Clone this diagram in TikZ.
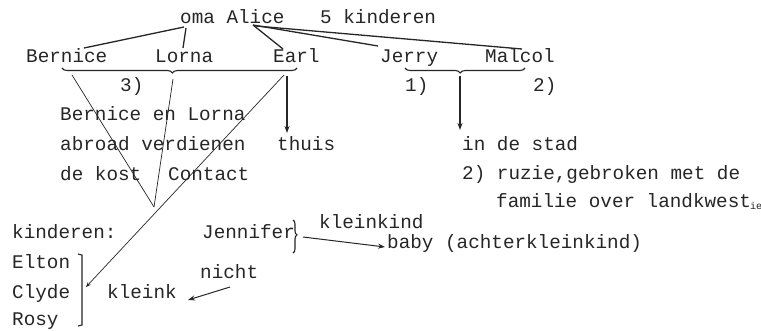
\documentclass[tikz,border=0pt]{standalone}
\usepackage{fontspec}
\setmonofont{Liberation Mono}
\usetikzlibrary{arrows.meta,decorations.pathreplacing}
\definecolor{ink}{RGB}{38,38,38}
\tikzset{
  tw/.style={font=\ttfamily\fontsize{19.3}{20}\selectfont, text=ink, inner sep=0pt, anchor=base west},
  link/.style={draw=ink, line width=1.3pt},
  thin link/.style={draw=ink, line width=0.7pt},
  downbrace/.style={draw=ink, line width=1.1pt, decorate,
    decoration={brace, amplitude=5pt, mirror, aspect=#1}},
  sidebrace/.style={draw=ink, line width=1.1pt, decorate,
    decoration={brace, amplitude=4pt, aspect=#1}},
  tip/.style={-{Stealth[length=7pt,width=5pt]}},
}
\begin{document}
\begin{tikzpicture}[x=1pt, y=-1pt]
\useasboundingbox (0,0) rectangle (761,330);
\fill[white] (0,0) rectangle (761,330);

% family members and notes
\node[tw] (alice) at (180,23) {oma Alice};
\node[tw] (count) at (320,23) {5 kinderen};
\node[tw] (bernice) at (26,62) {Bernice};
\node[tw] (lorna) at (155,62) {Lorna};
\node[tw] (earl) at (273,62) {Earl};
\node[tw] (jerry) at (380,62) {Jerry};
\node[tw] (malcol) at (485,62) {Malcol};
\node[tw] (n3) at (120,91) {3)};
\node[tw] (n1) at (405,91) {1)};
\node[tw] (n2) at (533,91) {2)};
\node[tw] (bl1) at (60,120) {Bernice en Lorna};
\node[tw] (bl2) at (60,150) {abroad verdienen};
\node[tw] (thuis) at (277,150) {thuis};
\node[tw] (stad) at (462,150) {in de stad};
\node[tw] (bl3) at (60,180) {de kost};
\node[tw] (contact) at (168,180) {Contact};
\node[tw] (ruzie1) at (462,179) {2) ruzie,gebroken met de};
\node[tw] (ruzie2) at (496,207) {familie over landkwest\kern-1pt\raisebox{-2pt}{\fontsize{10}{10}\selectfont ie}};
\node[tw] (kleinkind) at (319,228) {kleinkind};
\node[tw] (kinderen) at (12,238) {kinderen:};
\node[tw] (jennifer) at (202,238) {Jennifer};
\node[tw] (baby) at (387,248) {baby (achterkleinkind)};
\node[tw] (elton) at (12,268) {Elton};
\node[tw] (nicht) at (200,278) {nicht};
\node[tw] (clyde) at (12,298) {Clyde};
\node[tw] (kleink) at (107,298) {kleink};
\node[tw] (rosy) at (12,325) {Rosy};

% connection points
\coordinate (omaO) at (184,27);
\coordinate (omaL) at (186,28);
\coordinate (aliceI) at (253,25);
\coordinate (aliceJ) at (256,26);
\coordinate (toBernice) at (84,48);
\coordinate (toLorna) at (183,48);
\coordinate (toEarl) at (283,49);
\coordinate (toJerry) at (378,46);
\coordinate (toMalcol) at (522,49);
\coordinate (bLeft) at (62,68);
\coordinate (bRight) at (297,68);
\coordinate (jLeft) at (405,68);
\coordinate (jRight) at (525,68);
\coordinate (earlFoot) at (287,76);
\coordinate (thuisTop) at (287,133);
\coordinate (jmTip) at (460,76);
\coordinate (stadTop) at (460,130);
\coordinate (bernFoot) at (72,75);
\coordinate (lornaFoot) at (173,79);
\coordinate (earlLine) at (284,75);
\coordinate (meet) at (154,207);
\coordinate (clydeMark) at (86,287);
\coordinate (jTop) at (293,220);
\coordinate (jBot) at (293,253);
\coordinate (jOut) at (303,237);
\coordinate (babyIn) at (385,247);
\coordinate (nichtOut) at (230,287);
\coordinate (kleinkIn) at (188,300);

% lines of descent
\draw[link] (omaO) -- (toBernice);
\draw[link] (omaL) -- (toLorna);
\draw[link] (aliceI) -- (toEarl);
\draw[link] (aliceI) -- (toJerry);
\draw[link] (aliceJ) -- (toMalcol);

% grouping braces
\draw[downbrace=0.47] (bLeft) -- (bRight);
\draw[downbrace=0.46] (jLeft) -- (jRight);
\draw[sidebrace=0.45] (jTop) -- (jBot);

% arrows to places
\draw[link, tip] (earlFoot) -- (thuisTop);
\draw[link, tip] (jmTip) -- (stadTop);

% thin lines to the grandchildren
\draw[thin link] (bernFoot) -- (meet);
\draw[thin link] (lornaFoot) -- (meet);
\draw[thin link, -{Stealth[length=5pt,width=4pt]}] (earlLine) -- (clydeMark);

% bracket round Elton, Clyde and Rosy
\draw[link, line width=1.1pt] (78,254) -- (82,255) -- (82,325) -- (78,326);

\draw[link, line width=1pt, tip] (jOut) -- (babyIn);
\draw[link, line width=1pt, tip] (nichtOut) -- (kleinkIn);
\end{tikzpicture}
\end{document}
